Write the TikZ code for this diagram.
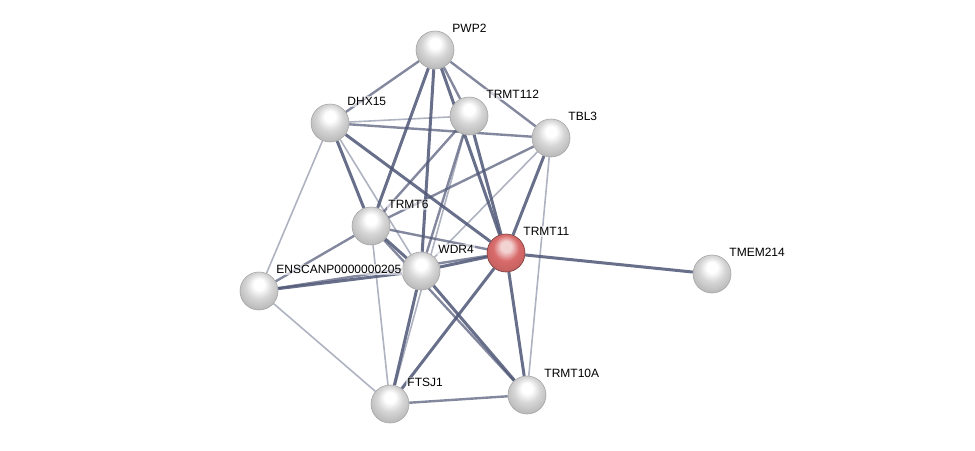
\documentclass[tikz,border=0pt]{standalone}
\usepackage{fontspec}
\setmainfont{Liberation Sans}
\usetikzlibrary{positioning,backgrounds}
\definecolor{edgecol}{HTML}{4E5675}
\definecolor{protgray}{HTML}{D6D6D6}
\definecolor{protred}{HTML}{D86A6A}
\pgfdeclareradialshading{graysphere}{\pgfqpoint{0bp}{10bp}}{color(0bp)=(white); color(7bp)=(white); color(17bp)=(protgray); color(30bp)=(protgray!85!black); color(36bp)=(protgray!65!black); color(50bp)=(protgray!65!black)}
\pgfdeclareradialshading{redsphere}{\pgfqpoint{0bp}{10bp}}{color(0bp)=(protred!30!white); color(7bp)=(protred!30!white); color(17bp)=(protred); color(30bp)=(protred!90!black); color(36bp)=(protred!70!black); color(50bp)=(protred!70!black)}

\begin{document}
\begin{tikzpicture}[x=1pt,y=-1pt,
    prot/.style={circle, minimum size=38pt, inner sep=0pt, shading=graysphere, draw=black!35, line width=0.6pt},
    query/.style={prot, shading=redsphere, draw=protred!55!black},
    lbl/.style={font=\fontsize{12}{14}\selectfont, inner sep=1.5pt, label distance=3pt,
        fill=white, fill opacity=0.6, text opacity=1},
    strong/.style={draw=edgecol, line width=3pt, draw opacity=0.85},
    mid/.style={draw=edgecol, line width=2.4pt, draw opacity=0.7},
    weak/.style={draw=edgecol, line width=1.6pt, draw opacity=0.45}]
    \useasboundingbox (0,0) rectangle (975,450);

    % proteins
    \node[prot]  (pwp2)    at (435,50)  [label={[lbl]45:PWP2}] {};
    \node[prot]  (dhx15)   at (330,123) [label={[lbl]45:DHX15}] {};
    \node[prot]  (trmt112) at (469,116) [label={[lbl]45:TRMT112}] {};
    \node[prot]  (tbl3)    at (551,138) [label={[lbl]45:TBL3}] {};
    \node[prot]  (trmt6)   at (371,226) [label={[lbl]45:TRMT6}] {};
    \node[query] (trmt11)  at (506,253) [label={[lbl]45:TRMT11}] {};
    \node[prot]  (wdr4)    at (421,271) [label={[lbl]45:WDR4}] {};
    \node[prot]  (enscanp) at (259,291) [label={[lbl]45:ENSCANP0000000205}] {};
    \node[prot]  (tmem214) at (712,274) [label={[lbl]45:TMEM214}] {};
    \node[prot]  (ftsj1)   at (390,404) [label={[lbl]45:FTSJ1}] {};
    \node[prot]  (trmt10a) at (527,395) [label={[lbl]45:TRMT10A}] {};

    \begin{scope}[on background layer]
    % top links
    \draw[mid]    (pwp2) -- (dhx15);
    \draw[strong] (pwp2) -- (trmt6);
    \draw[strong] (pwp2) -- (wdr4);
    \draw[mid]    (pwp2) -- (trmt112);
    \draw[strong] (pwp2) -- (trmt11);
    \draw[mid]    (pwp2) -- (tbl3);
    \draw[strong] (dhx15) -- (trmt6);
    \draw[strong] (dhx15) -- (trmt11);
    \draw[weak]   (dhx15) -- (trmt112);
    \draw[mid]    (dhx15) -- (tbl3);
    \draw[weak]   (dhx15) -- (wdr4);
    \draw[weak]   (dhx15) -- (enscanp);
    \draw[strong] (trmt112) -- (trmt11);
    \draw[mid]    (trmt112) -- (trmt6);
    \draw[mid]    (trmt112) -- (wdr4);
    \draw[weak]   (trmt112) -- (ftsj1);
    \draw[mid]    (tbl3) -- (trmt6);
    \draw[strong] (tbl3) -- (trmt11);
    \draw[weak]   (tbl3) -- (wdr4);
    \draw[weak]   (tbl3) -- (trmt10a);

    % middle links
    \draw[mid]    (trmt6) -- (trmt11);
    \draw[strong] (trmt6) -- (wdr4);
    \draw[mid]    (trmt6) -- (enscanp);
    \draw[weak]   (trmt6) -- (ftsj1);
    \draw[mid]    (trmt6) -- (trmt10a);
    \draw[strong] (wdr4) -- (trmt11);
    \draw[strong] (wdr4) -- (enscanp);
    \draw[mid]    (enscanp) -- (trmt11);
    \draw[weak]   (enscanp) -- (ftsj1);

    % bottom links
    \draw[strong] (wdr4) -- (ftsj1);
    \draw[strong] (wdr4) -- (trmt10a);
    \draw[strong] (trmt11) -- (ftsj1);
    \draw[strong] (trmt11) -- (trmt10a);
    \draw[strong] (trmt11) -- (tmem214);
    \draw[mid]    (ftsj1) -- (trmt10a);
    \end{scope}
\end{tikzpicture}
\end{document}
